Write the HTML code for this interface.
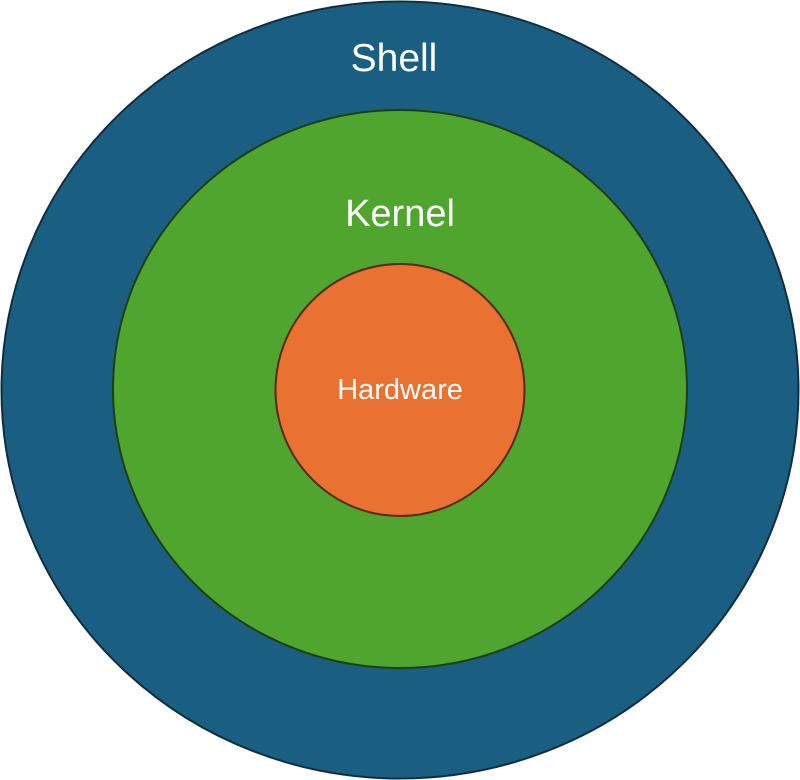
<!DOCTYPE html>
<html><head><meta charset="utf-8"><style>
html,body{margin:0;padding:0;background:#fff;width:800px;height:780px;overflow:hidden}
</style></head><body>
<svg width="800" height="780" viewBox="0 0 800 780" xmlns="http://www.w3.org/2000/svg">
<ellipse cx="400" cy="390" rx="398.5" ry="388.5" fill="#1a5f82" stroke="#0f2f40" stroke-width="2"/>
<ellipse cx="400" cy="389" rx="287" ry="279" fill="#50a52e" stroke="#1f3f12" stroke-width="2"/>
<ellipse cx="400" cy="390" rx="124.5" ry="126" fill="#e97132" stroke="#5a2a10" stroke-width="2"/>
<g font-family="Liberation Sans, sans-serif" fill="#fff" text-anchor="middle">
<text x="394" y="71" font-size="39">Shell</text>
<text x="400" y="226" font-size="38">Kernel</text>
<text x="400" y="399" font-size="29">Hardware</text>
</g>
</svg>
</body></html>
